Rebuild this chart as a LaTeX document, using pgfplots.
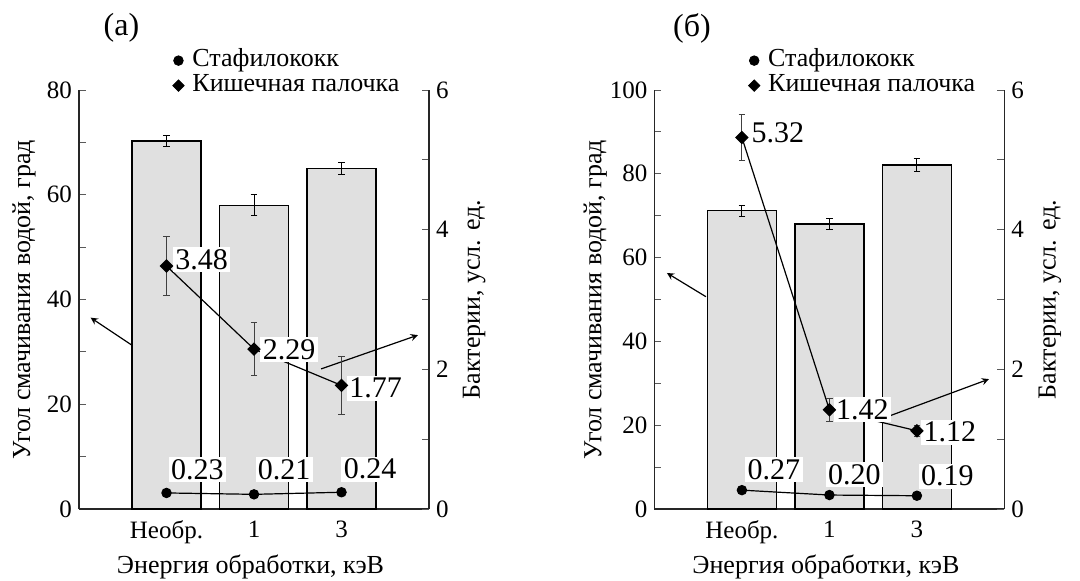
\documentclass[border=0pt]{standalone}
\usepackage{fontspec}
\setmainfont{Liberation Serif}
\usepackage{pgfplots}
\pgfplotsset{compat=1.18}

\tikzset{
  lbl/.style={fill=white, inner sep=1.2pt, font=\fontsize{15}{17}\selectfont},
  arr/.style={-stealth, line width=0.6pt, black},
}
\pgfplotsset{
  base/.style={
    scale only axis, width=175pt, height=209.5pt,
    xmin=-1, xmax=3,
    /pgf/number format/assume math mode=true,
    tick align=inside,
    major tick length=3.5pt, minor tick length=3.5pt,
    tick style={black!65, line width=0.5pt},
    axis line style={black!85, line width=0.7pt},
    every outer x axis line/.append style={-},
    every outer y axis line/.append style={-},
    every inner x axis line/.append style={-},
    every inner y axis line/.append style={-},
    yticklabel style={font=\fontsize{12.5}{14}\selectfont},
    xticklabel style={font=\fontsize{12.5}{14}\selectfont, yshift=-2.5pt},
    clip=false,
  },
  leftax/.style={
    axis x line=bottom, axis y line=left, base,
    xtick={0,1,2}, xticklabels={Необр.,1,3},
    x tick style={draw=none},
    xlabel={Энергия обработки, кэВ},
    xlabel style={at={(axis description cs:0.49,-0.138)}, anchor=center, font=\fontsize{13}{15}\selectfont},
    ylabel={Угол смачивания водой, град},
    ymin=0,
  },
  rightax/.style={
    axis y line=right, hide x axis, base,
    ymin=0, ymax=6, ytick={0,2,4,6}, minor ytick={1,3,5},
    ylabel={Бактерии, усл. ед.},
    legend style={draw=none, fill=none, font=\fontsize{13}{15}\selectfont,
      row sep=0pt, inner sep=0pt, outer sep=0pt,
      nodes={inner sep=0pt, text height=9pt, text depth=3.5pt}},
    legend cell align=left,
    legend image code/.code={\draw[##1] plot coordinates {(0pt,0pt)}; \path[draw=none] (7pt,0pt);},
  },
  barst/.style={ybar, bar width=0.79, fill=black!12, draw=black, line width=0.7pt, mark=none,
    error bars/.cd, y dir=both, y explicit,
    error bar style={line width=0.5pt, black},
    error mark options={rotate=90, mark size=1.7pt, line width=0.5pt, black},
    /pgfplots/.cd},
  diast/.style={black, line width=0.6pt, mark=square*, mark size=2.1pt,
    mark options={solid, fill=black, rotate=45},
    error bars/.cd, y dir=both, y explicit,
    error bar style={line width=0.5pt, black!75},
    error mark options={rotate=90, mark size=1.6pt, line width=0.5pt, black!75},
    /pgfplots/.cd},
  circst/.style={black, line width=0.6pt, mark=*, mark size=2.3pt, mark options={solid, fill=black}},
}

\begin{document}
\begin{tikzpicture}
\useasboundingbox (0,0) rectangle (540pt,290pt);

% ---------------- panel (a) ----------------
\node[font=\fontsize{16}{18}\selectfont] at (60.75pt,276pt) {(а)};
\begin{axis}[leftax, at={(39.5pt,35.5pt)}, anchor=south west,
  ymax=80, ytick={0,20,40,60,80}, minor ytick={10,30,50,70},
  ylabel style={at={(axis description cs:-0.157,0.5)}, anchor=center, font=\fontsize{13}{15}\selectfont}]
\addplot+[barst] coordinates {(0,70.3) +- (0,1.0) (1,58.0) +- (0,2.0) (2,65.0) +- (0,1.1)};
\end{axis}
\begin{axis}[rightax, at={(39.5pt,35.5pt)}, anchor=south west,
  ylabel style={at={(axis description cs:1.129,0.5)}, anchor=center, font=\fontsize{13}{15}\selectfont},
  legend style={at={(axis description cs:0.268,1.100)}, anchor=north west}]
\addlegendimage{only marks, mark=*, mark size=2.4pt, black}
\addlegendentry{Стафилококк}
\addlegendimage{only marks, mark=square*, mark size=2.0pt, mark options={rotate=45}, black}
\addlegendentry{Кишечная палочка}
\draw[arr] (axis cs:-0.40,2.35) -- (axis cs:-0.867,2.74);
\draw[arr] (axis cs:1.767,2.006) -- (axis cs:2.873,2.49);
\addplot[forget plot, circst] coordinates {(0,0.23) (1,0.21) (2,0.24)};
\addplot[forget plot, diast] coordinates {(0,3.48) +- (0,0.42) (1,2.29) +- (0,0.38) (2,1.77) +- (0,0.41)};
\node[lbl] at (axis cs:0.40,3.57) {3.48};
\node[lbl] at (axis cs:1.40,2.28) {2.29};
\node[lbl] at (axis cs:2.39,1.73) {1.77};
\node[lbl] at (axis cs:0.353,0.56) {0.23};
\node[lbl] at (axis cs:1.345,0.56) {0.21};
\node[lbl] at (axis cs:2.326,0.57) {0.24};
\end{axis}

% ---------------- panel (b) ----------------
\node[font=\fontsize{16}{18}\selectfont] at (346pt,276pt) {(б)};
\begin{axis}[leftax, at={(327.2pt,35.5pt)}, anchor=south west,
  ymax=100, ytick={0,20,40,60,80,100}, minor ytick={10,30,50,70,90},
  ylabel style={at={(axis description cs:-0.169,0.5)}, anchor=center, font=\fontsize{13}{15}\selectfont}]
\addplot+[barst] coordinates {(0,71.2) +- (0,1.3) (1,68.0) +- (0,1.4) (2,82.1) +- (0,1.6)};
\end{axis}
\begin{axis}[rightax, at={(327.2pt,35.5pt)}, anchor=south west,
  ylabel style={at={(axis description cs:1.13,0.5)}, anchor=center, font=\fontsize{13}{15}\selectfont},
  legend style={at={(axis description cs:0.269,1.100)}, anchor=north west}]
\addlegendimage{only marks, mark=*, mark size=2.4pt, black}
\addlegendentry{Стафилококк}
\addlegendimage{only marks, mark=square*, mark size=2.0pt, mark options={rotate=45}, black}
\addlegendentry{Кишечная палочка}
\draw[arr] (axis cs:-0.411,3.04) -- (axis cs:-0.857,3.38);
\draw[arr] (axis cs:1.68,1.33) -- (axis cs:2.823,1.86);
\addplot[forget plot, circst] coordinates {(0,0.27) (1,0.20) (2,0.19)};
\addplot[forget plot, diast] coordinates {(0,5.32) +- (0,0.33) (1,1.42) +- (0,0.16) (2,1.12) +- (0,0.08)};
\node[lbl] at (axis cs:0.41,5.39) {5.32};
\node[lbl] at (axis cs:1.377,1.42) {1.42};
\node[lbl] at (axis cs:2.377,1.10) {1.12};
\node[lbl] at (axis cs:0.366,0.56) {0.27};
\node[lbl] at (axis cs:1.286,0.49) {0.20};
\node[lbl] at (axis cs:2.349,0.47) {0.19};
\end{axis}
\end{tikzpicture}
\end{document}
